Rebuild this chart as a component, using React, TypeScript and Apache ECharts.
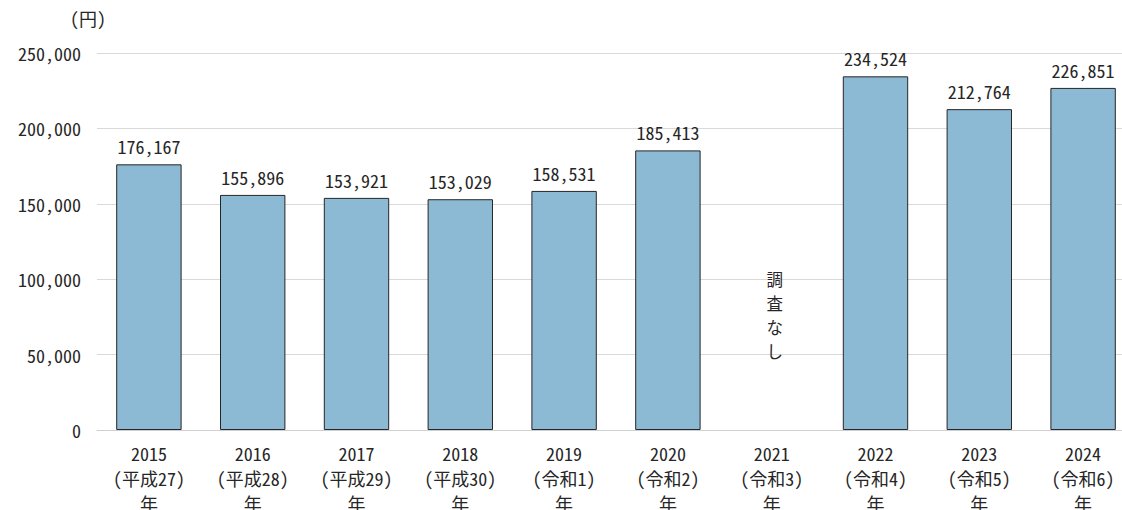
import React, { useEffect, useRef } from "react";
import * as echarts from "echarts";

const years = ["2015", "2016", "2017", "2018", "2019", "2020", "2021", "2022", "2023", "2024"];
const eras = ["(平成27)", "(平成28)", "(平成29)", "(平成30)", "(令和1)", "(令和2)", "(令和3)", "(令和4)", "(令和5)", "(令和6)"];
const values: (number | null)[] = [176167, 155896, 153921, 153029, 158531, 185413, null, 234524, 212764, 226851];
const noSurveyText = "調査なし";
const unitLabel = "(円)";

const FONT = "'Noto Sans Mono CJK JP', 'Liberation Mono', 'Noto Sans CJK JP', sans-serif";

export default function App() {
  const ref = useRef<HTMLDivElement>(null);
  useEffect(() => {
    if (!ref.current) return;
    const chart = echarts.init(ref.current, null, { renderer: "svg" });
    const categories = years.map((y, i) => `${y}\n${eras[i]}\n年`);
    chart.setOption({
      animation: false,
      textStyle: { fontFamily: FONT },
      grid: { left: 97, right: -13, top: 53, bottom: 80, outerBoundsMode: "none", containLabel: false },
      xAxis: {
        type: "category",
        data: categories,
        axisTick: { show: false },
        axisLine: { lineStyle: { color: "#d0d0d0", width: 1 } },
        axisLabel: { color: "#262626", fontSize: 18, lineHeight: 25, margin: 10, interval: 0, fontFamily: FONT, hideOverlap: false },
      },
      yAxis: {
        type: "value",
        min: 0,
        max: 250000,
        interval: 50000,
        axisLine: { show: false },
        axisTick: { show: false },
        splitLine: { lineStyle: { color: "#d9d9d9", width: 1 } },
        axisLabel: {
          color: "#262626",
          fontSize: 18,
          margin: 16,
          fontFamily: FONT,
          formatter: (v: number) => v.toLocaleString("en-US"),
        },
      },
      series: [
        {
          type: "bar",
          data: values,
          barWidth: "63%",
          itemStyle: { color: "#8cb9d3", borderColor: "#262626", borderWidth: 1 },
          label: {
            show: true,
            position: "top",
            distance: 9,
            color: "#262626",
            fontSize: 18,
            fontFamily: FONT,
            formatter: (p: any) => (p.value == null ? "" : Number(p.value).toLocaleString("en-US")),
          },
        },
      ],
    });
    const idx = values.findIndex((v) => v == null);
    const px = chart.convertToPixel({ xAxisIndex: 0 }, idx) as number;
    const py = chart.convertToPixel({ yAxisIndex: 0 }, 76000) as number;
    const chars = noSurveyText.split("");
    const step = 24;
    const startY = py - ((chars.length - 1) * step) / 2;
    chart.setOption({
      graphic: [
        {
          type: "text",
          left: 70,
          top: 9,
          style: { text: unitLabel, fill: "#262626", font: `18px ${FONT}` },
        },
        ...chars.map((c, i) => ({
          type: "text",
          x: px + 3,
          y: startY + i * step,
          style: {
            text: c,
            fill: "#262626",
            font: `16.5px ${FONT}`,
            align: "center",
            verticalAlign: "middle",
          },
        })),
      ],
    });
    return () => chart.dispose();
  }, []);
  return <div ref={ref} style={{ width: 1122, height: 510, position: "absolute", left: 0, top: 0 }} />;
}
